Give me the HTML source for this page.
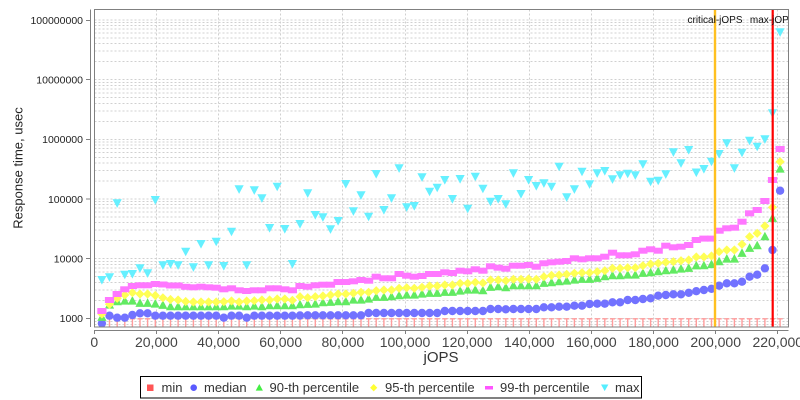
<!DOCTYPE html>
<html><head><meta charset="utf-8"><style>
html,body{margin:0;padding:0;background:#fff;}
svg{display:block;font-family:"Liberation Sans",sans-serif;}
</style></head><body>
<svg width="800" height="400" viewBox="0 0 800 400" xmlns="http://www.w3.org/2000/svg">
<defs>
<clipPath id="pc"><rect x="94" y="9" width="694.5" height="318"/></clipPath>
<circle id="c" r="4.2"/>
<path id="t" d="M0,-5l4.6,8.6h-9.2z"/>
<path id="d" d="M0,-4.6l4.6,4.6l-4.6,4.6l-4.6,-4.6z"/>
<path id="r" d="M-4.6,-3h9.2v6h-9.2z"/>
<path id="v" d="M-4.6,-4h9.2l-4.6,8.6z"/>
<path id="m" d="M-2.6,318.8h5.2M0,318.8V327" fill="none"/>
</defs>
<rect x="0" y="0" width="800" height="400" fill="#fff"/>
<rect x="94.5" y="9.5" width="694" height="317.5" fill="#fff"/>
<!-- grid -->
<g stroke="#d0d0d0" stroke-width="1" stroke-dasharray="2,2" fill="none">
<path d="M94.5,324.5H788.5M94.5,321.5H788.5M94.5,318.5H788.5M94.5,300.5H788.5M94.5,290H788.5M94.5,282.5H788.5M94.5,276.5H788.5M94.5,272H788.5M94.5,268H788.5M94.5,264.5H788.5M94.5,261.5H788.5M94.5,258.5H788.5M94.5,240.5H788.5M94.5,230H788.5M94.5,222.5H788.5M94.5,217H788.5M94.5,212H788.5M94.5,208H788.5M94.5,204.5H788.5M94.5,201.5H788.5M94.5,199H788.5M94.5,181H788.5M94.5,170.5H788.5M94.5,163H788.5M94.5,157.5H788.5M94.5,152.5H788.5M94.5,148.5H788.5M94.5,145H788.5M94.5,142H788.5M94.5,139.5H788.5M94.5,121.5H788.5M94.5,111H788.5M94.5,103.5H788.5M94.5,97.5H788.5M94.5,93H788.5M94.5,89H788.5M94.5,85.5H788.5M94.5,82.5H788.5M94.5,79.5H788.5M94.5,61.5H788.5M94.5,51H788.5M94.5,43.5H788.5M94.5,38H788.5M94.5,33H788.5M94.5,29H788.5M94.5,25.5H788.5M94.5,22.5H788.5M94.5,20H788.5"/>
<path d="M156.5,9.5V327M218.5,9.5V327M280.5,9.5V327M342.5,9.5V327M405.5,9.5V327M467.5,9.5V327M529.5,9.5V327M591.5,9.5V327M653.5,9.5V327M715.5,9.5V327M777.5,9.5V327"/>
</g>
<!-- min -->
<g stroke="#ff9c9c" stroke-width="1.4">
<use href="#m" x="101.9"/><use href="#m" x="109.5"/><use href="#m" x="117.2"/><use href="#m" x="124.8"/><use href="#m" x="132.4"/><use href="#m" x="140"/><use href="#m" x="147.6"/><use href="#m" x="155.3"/><use href="#m" x="162.9"/><use href="#m" x="170.5"/><use href="#m" x="178.1"/><use href="#m" x="185.7"/><use href="#m" x="193.4"/><use href="#m" x="201"/><use href="#m" x="208.6"/><use href="#m" x="216.2"/><use href="#m" x="223.8"/><use href="#m" x="231.5"/><use href="#m" x="239.1"/><use href="#m" x="246.7"/><use href="#m" x="254.3"/><use href="#m" x="261.9"/><use href="#m" x="269.6"/><use href="#m" x="277.2"/><use href="#m" x="284.8"/><use href="#m" x="292.4"/><use href="#m" x="300"/><use href="#m" x="307.7"/><use href="#m" x="315.3"/><use href="#m" x="322.9"/><use href="#m" x="330.5"/><use href="#m" x="338.1"/><use href="#m" x="345.8"/><use href="#m" x="353.4"/><use href="#m" x="361"/><use href="#m" x="368.6"/><use href="#m" x="376.2"/><use href="#m" x="383.9"/><use href="#m" x="391.5"/><use href="#m" x="399.1"/><use href="#m" x="406.7"/><use href="#m" x="414.3"/><use href="#m" x="422"/><use href="#m" x="429.6"/><use href="#m" x="437.2"/><use href="#m" x="444.8"/><use href="#m" x="452.4"/><use href="#m" x="460.1"/><use href="#m" x="467.7"/><use href="#m" x="475.3"/><use href="#m" x="482.9"/><use href="#m" x="490.5"/><use href="#m" x="498.2"/><use href="#m" x="505.8"/><use href="#m" x="513.4"/><use href="#m" x="521"/><use href="#m" x="528.6"/><use href="#m" x="536.3"/><use href="#m" x="543.9"/><use href="#m" x="551.5"/><use href="#m" x="559.1"/><use href="#m" x="566.7"/><use href="#m" x="574.4"/><use href="#m" x="582"/><use href="#m" x="589.6"/><use href="#m" x="597.2"/><use href="#m" x="604.8"/><use href="#m" x="612.5"/><use href="#m" x="620.1"/><use href="#m" x="627.7"/><use href="#m" x="635.3"/><use href="#m" x="642.9"/><use href="#m" x="650.6"/><use href="#m" x="658.2"/><use href="#m" x="665.8"/><use href="#m" x="673.4"/><use href="#m" x="681"/><use href="#m" x="688.7"/><use href="#m" x="696.3"/><use href="#m" x="703.9"/><use href="#m" x="711.5"/><use href="#m" x="719.1"/><use href="#m" x="726.8"/><use href="#m" x="734.4"/><use href="#m" x="742"/><use href="#m" x="749.6"/><use href="#m" x="757.2"/><use href="#m" x="764.9"/><use href="#m" x="772.5"/><use href="#m" x="780.1"/>
</g>
<!-- median -->
<g fill="#7272ff">
<use href="#c" x="101.9" y="323.3"/><use href="#c" x="109.5" y="315.7"/><use href="#c" x="117.2" y="317.7"/><use href="#c" x="124.8" y="317.7"/><use href="#c" x="132.4" y="315"/><use href="#c" x="140" y="313.3"/><use href="#c" x="147.6" y="313.3"/><use href="#c" x="155.3" y="315.7"/><use href="#c" x="162.9" y="315.7"/><use href="#c" x="170.5" y="315.7"/><use href="#c" x="178.1" y="315.7"/><use href="#c" x="185.7" y="315.7"/><use href="#c" x="193.4" y="315.7"/><use href="#c" x="201" y="315.7"/><use href="#c" x="208.6" y="315.7"/><use href="#c" x="216.2" y="315.7"/><use href="#c" x="223.8" y="317.7"/><use href="#c" x="231.5" y="315.7"/><use href="#c" x="239.1" y="315.7"/><use href="#c" x="246.7" y="317.7"/><use href="#c" x="254.3" y="315.7"/><use href="#c" x="261.9" y="315.7"/><use href="#c" x="269.6" y="315.7"/><use href="#c" x="277.2" y="315.7"/><use href="#c" x="284.8" y="315.7"/><use href="#c" x="292.4" y="315.7"/><use href="#c" x="300" y="315.5"/><use href="#c" x="307.7" y="315.3"/><use href="#c" x="315.3" y="315.3"/><use href="#c" x="322.9" y="315.3"/><use href="#c" x="330.5" y="315.3"/><use href="#c" x="338.1" y="315.3"/><use href="#c" x="345.8" y="315.3"/><use href="#c" x="353.4" y="315.3"/><use href="#c" x="361" y="315.3"/><use href="#c" x="368.6" y="313"/><use href="#c" x="376.2" y="313"/><use href="#c" x="383.9" y="313"/><use href="#c" x="391.5" y="313"/><use href="#c" x="399.1" y="313"/><use href="#c" x="406.7" y="313"/><use href="#c" x="414.3" y="313"/><use href="#c" x="422" y="313"/><use href="#c" x="429.6" y="313"/><use href="#c" x="437.2" y="313"/><use href="#c" x="444.8" y="311"/><use href="#c" x="452.4" y="311"/><use href="#c" x="460.1" y="311"/><use href="#c" x="467.7" y="311"/><use href="#c" x="475.3" y="311"/><use href="#c" x="482.9" y="311"/><use href="#c" x="490.5" y="309"/><use href="#c" x="498.2" y="309"/><use href="#c" x="505.8" y="309.3"/><use href="#c" x="513.4" y="309"/><use href="#c" x="521" y="309"/><use href="#c" x="528.6" y="309"/><use href="#c" x="536.3" y="309"/><use href="#c" x="543.9" y="307.3"/><use href="#c" x="551.5" y="307.3"/><use href="#c" x="559.1" y="306.7"/><use href="#c" x="566.7" y="306.7"/><use href="#c" x="574.4" y="305.7"/><use href="#c" x="582" y="305.7"/><use href="#c" x="589.6" y="304"/><use href="#c" x="597.2" y="303.7"/><use href="#c" x="604.8" y="303.7"/><use href="#c" x="612.5" y="302.3"/><use href="#c" x="620.1" y="302.3"/><use href="#c" x="627.7" y="300"/><use href="#c" x="635.3" y="300"/><use href="#c" x="642.9" y="299"/><use href="#c" x="650.6" y="298.3"/><use href="#c" x="658.2" y="295.7"/><use href="#c" x="665.8" y="295"/><use href="#c" x="673.4" y="294.3"/><use href="#c" x="681" y="294.3"/><use href="#c" x="688.7" y="292.8"/><use href="#c" x="696.3" y="291.2"/><use href="#c" x="703.9" y="290"/><use href="#c" x="711.5" y="288.8"/><use href="#c" x="719.1" y="285.7"/><use href="#c" x="726.8" y="283.3"/><use href="#c" x="734.4" y="283.3"/><use href="#c" x="742" y="281.7"/><use href="#c" x="749.6" y="276.7"/><use href="#c" x="757.2" y="274.7"/><use href="#c" x="764.9" y="268.3"/><use href="#c" x="772.5" y="250"/><use href="#c" x="780.1" y="190.7"/>
</g>
<!-- 90th -->
<g fill="#62ea62">
<use href="#t" x="101.9" y="317.3"/><use href="#t" x="109.5" y="305"/><use href="#t" x="117.2" y="301.7"/><use href="#t" x="124.8" y="301"/><use href="#t" x="132.4" y="301"/><use href="#t" x="140" y="303.3"/><use href="#t" x="147.6" y="303.3"/><use href="#t" x="155.3" y="304"/><use href="#t" x="162.9" y="305.3"/><use href="#t" x="170.5" y="306.7"/><use href="#t" x="178.1" y="306.7"/><use href="#t" x="185.7" y="306.7"/><use href="#t" x="193.4" y="306.7"/><use href="#t" x="201" y="306.7"/><use href="#t" x="208.6" y="306.7"/><use href="#t" x="216.2" y="306.7"/><use href="#t" x="223.8" y="306.7"/><use href="#t" x="231.5" y="306"/><use href="#t" x="239.1" y="306"/><use href="#t" x="246.7" y="306.7"/><use href="#t" x="254.3" y="306"/><use href="#t" x="261.9" y="306.7"/><use href="#t" x="269.6" y="305.7"/><use href="#t" x="277.2" y="305.7"/><use href="#t" x="284.8" y="305.7"/><use href="#t" x="292.4" y="305.7"/><use href="#t" x="300" y="304.7"/><use href="#t" x="307.7" y="304.3"/><use href="#t" x="315.3" y="304"/><use href="#t" x="322.9" y="302.7"/><use href="#t" x="330.5" y="302.3"/><use href="#t" x="338.1" y="301.7"/><use href="#t" x="345.8" y="301.7"/><use href="#t" x="353.4" y="300"/><use href="#t" x="361" y="300"/><use href="#t" x="368.6" y="299"/><use href="#t" x="376.2" y="297.3"/><use href="#t" x="383.9" y="297.3"/><use href="#t" x="391.5" y="296.7"/><use href="#t" x="399.1" y="295.7"/><use href="#t" x="406.7" y="295"/><use href="#t" x="414.3" y="295"/><use href="#t" x="422" y="294"/><use href="#t" x="429.6" y="293.3"/><use href="#t" x="437.2" y="293.3"/><use href="#t" x="444.8" y="292.3"/><use href="#t" x="452.4" y="292.3"/><use href="#t" x="460.1" y="291"/><use href="#t" x="467.7" y="290"/><use href="#t" x="475.3" y="290"/><use href="#t" x="482.9" y="290.7"/><use href="#t" x="490.5" y="287.3"/><use href="#t" x="498.2" y="286.7"/><use href="#t" x="505.8" y="287.7"/><use href="#t" x="513.4" y="285.7"/><use href="#t" x="521" y="285.7"/><use href="#t" x="528.6" y="285.7"/><use href="#t" x="536.3" y="285.7"/><use href="#t" x="543.9" y="283.3"/><use href="#t" x="551.5" y="282.7"/><use href="#t" x="559.1" y="281.7"/><use href="#t" x="566.7" y="281"/><use href="#t" x="574.4" y="280"/><use href="#t" x="582" y="279.3"/><use href="#t" x="589.6" y="279.3"/><use href="#t" x="597.2" y="278.3"/><use href="#t" x="604.8" y="276.7"/><use href="#t" x="612.5" y="275.7"/><use href="#t" x="620.1" y="275.7"/><use href="#t" x="627.7" y="275"/><use href="#t" x="635.3" y="275"/><use href="#t" x="642.9" y="273.3"/><use href="#t" x="650.6" y="272.7"/><use href="#t" x="658.2" y="271.7"/><use href="#t" x="665.8" y="270.7"/><use href="#t" x="673.4" y="270"/><use href="#t" x="681" y="269"/><use href="#t" x="688.7" y="268.3"/><use href="#t" x="696.3" y="265.8"/><use href="#t" x="703.9" y="265.7"/><use href="#t" x="711.5" y="264.5"/><use href="#t" x="719.1" y="261.7"/><use href="#t" x="726.8" y="259"/><use href="#t" x="734.4" y="259"/><use href="#t" x="742" y="253.3"/><use href="#t" x="749.6" y="248.3"/><use href="#t" x="757.2" y="245.7"/><use href="#t" x="764.9" y="236.7"/><use href="#t" x="772.5" y="218.3"/><use href="#t" x="780.1" y="169"/>
</g>
<!-- 95th -->
<g fill="#ffff55">
<use href="#d" x="101.9" y="314"/><use href="#d" x="109.5" y="304.3"/><use href="#d" x="117.2" y="298.3"/><use href="#d" x="124.8" y="295"/><use href="#d" x="132.4" y="292.7"/><use href="#d" x="140" y="294"/><use href="#d" x="147.6" y="294"/><use href="#d" x="155.3" y="295.5"/><use href="#d" x="162.9" y="297.8"/><use href="#d" x="170.5" y="299.5"/><use href="#d" x="178.1" y="300"/><use href="#d" x="185.7" y="301.5"/><use href="#d" x="193.4" y="302"/><use href="#d" x="201" y="302"/><use href="#d" x="208.6" y="302"/><use href="#d" x="216.2" y="302"/><use href="#d" x="223.8" y="301.7"/><use href="#d" x="231.5" y="301"/><use href="#d" x="239.1" y="302"/><use href="#d" x="246.7" y="301"/><use href="#d" x="254.3" y="300.7"/><use href="#d" x="261.9" y="300"/><use href="#d" x="269.6" y="300"/><use href="#d" x="277.2" y="299"/><use href="#d" x="284.8" y="299"/><use href="#d" x="292.4" y="300.3"/><use href="#d" x="300" y="296.7"/><use href="#d" x="307.7" y="297.7"/><use href="#d" x="315.3" y="296.7"/><use href="#d" x="322.9" y="296"/><use href="#d" x="330.5" y="295"/><use href="#d" x="338.1" y="294"/><use href="#d" x="345.8" y="294"/><use href="#d" x="353.4" y="293.3"/><use href="#d" x="361" y="292.3"/><use href="#d" x="368.6" y="292.3"/><use href="#d" x="376.2" y="290.7"/><use href="#d" x="383.9" y="290"/><use href="#d" x="391.5" y="290"/><use href="#d" x="399.1" y="288.3"/><use href="#d" x="406.7" y="287.7"/><use href="#d" x="414.3" y="288.3"/><use href="#d" x="422" y="287.3"/><use href="#d" x="429.6" y="286"/><use href="#d" x="437.2" y="286"/><use href="#d" x="444.8" y="285"/><use href="#d" x="452.4" y="285"/><use href="#d" x="460.1" y="283.3"/><use href="#d" x="467.7" y="283.3"/><use href="#d" x="475.3" y="282.3"/><use href="#d" x="482.9" y="283"/><use href="#d" x="490.5" y="280"/><use href="#d" x="498.2" y="280"/><use href="#d" x="505.8" y="280.7"/><use href="#d" x="513.4" y="279.3"/><use href="#d" x="521" y="279.3"/><use href="#d" x="528.6" y="279"/><use href="#d" x="536.3" y="279.3"/><use href="#d" x="543.9" y="276.7"/><use href="#d" x="551.5" y="275.3"/><use href="#d" x="559.1" y="275"/><use href="#d" x="566.7" y="274.3"/><use href="#d" x="574.4" y="273.3"/><use href="#d" x="582" y="272.7"/><use href="#d" x="589.6" y="272.7"/><use href="#d" x="597.2" y="271.7"/><use href="#d" x="604.8" y="270.7"/><use href="#d" x="612.5" y="268.3"/><use href="#d" x="620.1" y="268.3"/><use href="#d" x="627.7" y="267.7"/><use href="#d" x="635.3" y="267.7"/><use href="#d" x="642.9" y="265.7"/><use href="#d" x="650.6" y="264"/><use href="#d" x="658.2" y="263.3"/><use href="#d" x="665.8" y="262.3"/><use href="#d" x="673.4" y="261.7"/><use href="#d" x="681" y="260.7"/><use href="#d" x="688.7" y="260"/><use href="#d" x="696.3" y="257"/><use href="#d" x="703.9" y="257"/><use href="#d" x="711.5" y="256"/><use href="#d" x="719.1" y="251.7"/><use href="#d" x="726.8" y="250"/><use href="#d" x="734.4" y="250"/><use href="#d" x="742" y="244.3"/><use href="#d" x="749.6" y="236.7"/><use href="#d" x="757.2" y="233.3"/><use href="#d" x="764.9" y="226"/><use href="#d" x="772.5" y="207.3"/><use href="#d" x="780.1" y="161.7"/>
</g>
<!-- 99th -->
<g fill="#ff77ff">
<use href="#r" x="101.9" y="311"/><use href="#r" x="109.5" y="300"/><use href="#r" x="117.2" y="294"/><use href="#r" x="124.8" y="289.3"/><use href="#r" x="132.4" y="286"/><use href="#r" x="140" y="285.3"/><use href="#r" x="147.6" y="285.3"/><use href="#r" x="155.3" y="284"/><use href="#r" x="162.9" y="284.5"/><use href="#r" x="170.5" y="285.5"/><use href="#r" x="178.1" y="285.5"/><use href="#r" x="185.7" y="286.8"/><use href="#r" x="193.4" y="287.3"/><use href="#r" x="201" y="286.7"/><use href="#r" x="208.6" y="287.3"/><use href="#r" x="216.2" y="287.7"/><use href="#r" x="223.8" y="289.3"/><use href="#r" x="231.5" y="288.3"/><use href="#r" x="239.1" y="290.3"/><use href="#r" x="246.7" y="291"/><use href="#r" x="254.3" y="290.3"/><use href="#r" x="261.9" y="290.3"/><use href="#r" x="269.6" y="288.3"/><use href="#r" x="277.2" y="288.3"/><use href="#r" x="284.8" y="289.3"/><use href="#r" x="292.4" y="290.3"/><use href="#r" x="300" y="286"/><use href="#r" x="307.7" y="286.7"/><use href="#r" x="315.3" y="285.3"/><use href="#r" x="322.9" y="284.7"/><use href="#r" x="330.5" y="284.7"/><use href="#r" x="338.1" y="282"/><use href="#r" x="345.8" y="282"/><use href="#r" x="353.4" y="281.3"/><use href="#r" x="361" y="280"/><use href="#r" x="368.6" y="280.7"/><use href="#r" x="376.2" y="276.7"/><use href="#r" x="383.9" y="278.3"/><use href="#r" x="391.5" y="278.3"/><use href="#r" x="399.1" y="274"/><use href="#r" x="406.7" y="275.7"/><use href="#r" x="414.3" y="276.7"/><use href="#r" x="422" y="276"/><use href="#r" x="429.6" y="274"/><use href="#r" x="437.2" y="274"/><use href="#r" x="444.8" y="272.3"/><use href="#r" x="452.4" y="273"/><use href="#r" x="460.1" y="270.7"/><use href="#r" x="467.7" y="271.3"/><use href="#r" x="475.3" y="269.3"/><use href="#r" x="482.9" y="270.7"/><use href="#r" x="490.5" y="266.3"/><use href="#r" x="498.2" y="267.7"/><use href="#r" x="505.8" y="268.7"/><use href="#r" x="513.4" y="265.7"/><use href="#r" x="521" y="265.7"/><use href="#r" x="528.6" y="265"/><use href="#r" x="536.3" y="266.7"/><use href="#r" x="543.9" y="263.3"/><use href="#r" x="551.5" y="262.3"/><use href="#r" x="559.1" y="261.7"/><use href="#r" x="566.7" y="261"/><use href="#r" x="574.4" y="258.3"/><use href="#r" x="582" y="259.3"/><use href="#r" x="589.6" y="258.3"/><use href="#r" x="597.2" y="258.3"/><use href="#r" x="604.8" y="256.7"/><use href="#r" x="612.5" y="252.7"/><use href="#r" x="620.1" y="255.3"/><use href="#r" x="627.7" y="255.3"/><use href="#r" x="635.3" y="254.3"/><use href="#r" x="642.9" y="250.7"/><use href="#r" x="650.6" y="249.3"/><use href="#r" x="658.2" y="250.7"/><use href="#r" x="665.8" y="245.7"/><use href="#r" x="673.4" y="247.3"/><use href="#r" x="681" y="246.7"/><use href="#r" x="688.7" y="245"/><use href="#r" x="696.3" y="240"/><use href="#r" x="703.9" y="238.6"/><use href="#r" x="711.5" y="238.6"/><use href="#r" x="719.1" y="230.7"/><use href="#r" x="726.8" y="228.3"/><use href="#r" x="734.4" y="227.7"/><use href="#r" x="742" y="221.7"/><use href="#r" x="749.6" y="213.3"/><use href="#r" x="757.2" y="210"/><use href="#r" x="764.9" y="201"/><use href="#r" x="772.5" y="180"/><use href="#r" x="780.1" y="149"/>
</g>
<!-- max -->
<g fill="#66f0ff">
<use href="#v" x="101.9" y="280"/><use href="#v" x="109.5" y="277.3"/><use href="#v" x="117.2" y="203.3"/><use href="#v" x="124.8" y="274.7"/><use href="#v" x="132.4" y="274"/><use href="#v" x="140" y="268.3"/><use href="#v" x="147.6" y="273.3"/><use href="#v" x="155.3" y="200"/><use href="#v" x="162.9" y="265.3"/><use href="#v" x="170.5" y="264"/><use href="#v" x="178.1" y="265.3"/><use href="#v" x="185.7" y="251.7"/><use href="#v" x="193.4" y="267.3"/><use href="#v" x="201" y="244"/><use href="#v" x="208.6" y="265.3"/><use href="#v" x="216.2" y="241.7"/><use href="#v" x="223.8" y="266"/><use href="#v" x="231.5" y="231.7"/><use href="#v" x="239.1" y="189.3"/><use href="#v" x="246.7" y="265.3"/><use href="#v" x="254.3" y="190.3"/><use href="#v" x="261.9" y="198.3"/><use href="#v" x="269.6" y="228"/><use href="#v" x="277.2" y="186.7"/><use href="#v" x="284.8" y="229"/><use href="#v" x="292.4" y="264"/><use href="#v" x="300" y="224"/><use href="#v" x="307.7" y="193.3"/><use href="#v" x="315.3" y="215"/><use href="#v" x="322.9" y="217.3"/><use href="#v" x="330.5" y="229.3"/><use href="#v" x="338.1" y="221"/><use href="#v" x="345.8" y="184"/><use href="#v" x="353.4" y="211.3"/><use href="#v" x="361" y="195.3"/><use href="#v" x="368.6" y="216.7"/><use href="#v" x="376.2" y="174"/><use href="#v" x="383.9" y="210"/><use href="#v" x="391.5" y="198.3"/><use href="#v" x="399.1" y="168.3"/><use href="#v" x="406.7" y="207.3"/><use href="#v" x="414.3" y="206"/><use href="#v" x="422" y="177.3"/><use href="#v" x="429.6" y="191.7"/><use href="#v" x="437.2" y="187.7"/><use href="#v" x="444.8" y="180"/><use href="#v" x="452.4" y="199"/><use href="#v" x="460.1" y="179"/><use href="#v" x="467.7" y="208.7"/><use href="#v" x="475.3" y="176.7"/><use href="#v" x="482.9" y="188.7"/><use href="#v" x="490.5" y="201.7"/><use href="#v" x="498.2" y="199"/><use href="#v" x="505.8" y="204.2"/><use href="#v" x="513.4" y="173.3"/><use href="#v" x="521" y="194"/><use href="#v" x="528.6" y="180"/><use href="#v" x="536.3" y="186"/><use href="#v" x="543.9" y="183.3"/><use href="#v" x="551.5" y="186.7"/><use href="#v" x="559.1" y="166.7"/><use href="#v" x="566.7" y="197.3"/><use href="#v" x="574.4" y="189.3"/><use href="#v" x="582" y="171.7"/><use href="#v" x="589.6" y="184.3"/><use href="#v" x="597.2" y="173.3"/><use href="#v" x="604.8" y="171"/><use href="#v" x="612.5" y="179.3"/><use href="#v" x="620.1" y="175.3"/><use href="#v" x="627.7" y="173.7"/><use href="#v" x="635.3" y="175.3"/><use href="#v" x="642.9" y="164.3"/><use href="#v" x="650.6" y="181.7"/><use href="#v" x="658.2" y="180.7"/><use href="#v" x="665.8" y="174.3"/><use href="#v" x="673.4" y="152.3"/><use href="#v" x="681" y="163.3"/><use href="#v" x="688.7" y="150"/><use href="#v" x="696.3" y="172.5"/><use href="#v" x="703.9" y="169"/><use href="#v" x="711.5" y="161.7"/><use href="#v" x="719.1" y="154"/><use href="#v" x="726.8" y="143.3"/><use href="#v" x="734.4" y="168.3"/><use href="#v" x="742" y="152.7"/><use href="#v" x="749.6" y="140.7"/><use href="#v" x="757.2" y="146.7"/><use href="#v" x="764.9" y="139.3"/><use href="#v" x="772.5" y="113.3"/><use href="#v" x="780.1" y="32.3"/>
</g>
<!-- markers -->
<line x1="715" y1="9.5" x2="715" y2="327" stroke="#ffc020" stroke-width="2.4"/>
<line x1="772.7" y1="9.5" x2="772.7" y2="327" stroke="#ff0000" stroke-width="2.2"/>
<g clip-path="url(#pc)" font-size="10" fill="#111" text-anchor="middle">
<text x="715" y="23">critical-jOPS</text>
<text x="772.7" y="23">max-jOPS</text>
</g>
<!-- plot outline & axes -->
<rect x="94.5" y="9.5" width="694" height="317.5" fill="none" stroke="#808080" stroke-width="1"/>
<g stroke="#808080" stroke-width="1" fill="none">
<path d="M90.5,9.5V327"/>
<path d="M94,330.5H788.5"/>
<path d="M86,20.5H90.5M86,79.5H90.5M86,139.5H90.5M86,199H90.5M86,258.5H90.5M86,318.5H90.5"/>
<path d="M94.5,330.5V334M156.5,330.5V334M218.5,330.5V334M280.5,330.5V334M342.5,330.5V334M405.5,330.5V334M467.5,330.5V334M529.5,330.5V334M591.5,330.5V334M653.5,330.5V334M715.5,330.5V334M777.5,330.5V334"/>
</g>
<!-- y labels -->
<g font-size="10.5" fill="#222" text-anchor="end">
<text x="83" y="23.8">100000000</text>
<text x="83" y="83.5">10000000</text>
<text x="83" y="143.1">1000000</text>
<text x="83" y="202.8">100000</text>
<text x="83" y="262.4">10000</text>
<text x="83" y="322.1">1000</text>
</g>
<!-- x labels -->
<g font-size="14" fill="#444" text-anchor="middle">
<text x="94.3" y="347">0</text>
<text x="156.4" y="347">20,000</text>
<text x="218.6" y="347">40,000</text>
<text x="280.7" y="347">60,000</text>
<text x="342.9" y="347">80,000</text>
<text x="405" y="347">100,000</text>
<text x="467.1" y="347">120,000</text>
<text x="529.3" y="347">140,000</text>
<text x="591.4" y="347">160,000</text>
<text x="653.6" y="347">180,000</text>
<text x="715.7" y="347">200,000</text>
<text x="777.8" y="347">220,000</text>
</g>
<text x="441" y="362" font-size="15" fill="#333" text-anchor="middle">jOPS</text>
<text transform="translate(22.5,168) rotate(-90)" font-size="13" fill="#222" text-anchor="middle">Response time, usec</text>
<!-- legend -->
<rect x="140.5" y="376.5" width="501" height="21.5" fill="#fff" stroke="#000" stroke-width="1"/>
<rect x="147" y="384.5" width="6.5" height="6.5" fill="#ff5555"/>
<circle cx="193.7" cy="387.7" r="3.3" fill="#5a5aff"/>
<path d="M259.3,384l3.6,6.6h-7.2z" fill="#44ee44"/>
<path d="M373.7,384l3.6,3.7l-3.6,3.7l-3.6,-3.7z" fill="#ffff33"/>
<rect x="485" y="386" width="8" height="3.5" fill="#ff55ff"/>
<path d="M601,384.5h7.4l-3.7,6.6z" fill="#55eeff"/>
<g font-size="13" fill="#333">
<text x="161.5" y="392">min</text>
<text x="204" y="392">median</text>
<text x="269.5" y="392">90-th percentile</text>
<text x="385" y="392">95-th percentile</text>
<text x="500" y="392">99-th percentile</text>
<text x="615" y="392">max</text>
</g>
</svg>
</body></html>
